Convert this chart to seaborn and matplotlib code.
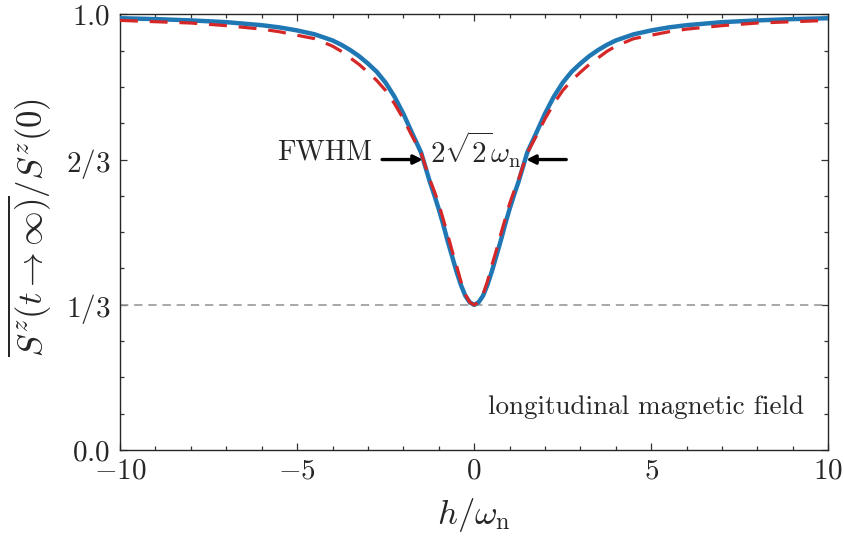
import numpy as np
import pandas as pd
import matplotlib
matplotlib.use("Agg")
import matplotlib.pyplot as plt
import seaborn as sns

# ---- data ----
h_half = [-10, -9, -8, -7, -6, -5.5, -5, -4.5, -4, -3.75, -3.5, -3.25, -3, -2.75,
          -2.5, -2.25, -2, -1.75, -1.5, -1.25, -1.125, -1, -0.875, -0.75, -0.625,
          -0.5, -0.375, -0.25, -0.125, 0]
blue_half = [0.991, 0.989, 0.986, 0.982, 0.975, 0.970, 0.963, 0.954, 0.940, 0.930,
             0.918, 0.904, 0.887, 0.868, 0.843, 0.811, 0.772, 0.727, 0.683, 0.615,
             0.585, 0.553, 0.518, 0.480, 0.445, 0.410, 0.379, 0.354, 0.339, 0.333]
red_half = [0.986, 0.983, 0.980, 0.974, 0.966, 0.960, 0.952, 0.944, 0.927, 0.915,
            0.900, 0.885, 0.867, 0.848, 0.825, 0.795, 0.760, 0.720, 0.682, 0.620,
            0.594, 0.565, 0.530, 0.495, 0.458, 0.424, 0.387, 0.357, 0.339, 0.333]

h_vals = h_half + [-v for v in h_half[-2::-1]]
blue_vals = blue_half + blue_half[-2::-1]
red_vals = red_half + red_half[-2::-1]

ytick_vals = [0, 1/3, 2/3, 1]
ytick_labels = ["$0.0$", "$1/3$", "$2/3$", "$1.0$"]
xtick_vals = [-10, -5, 0, 5, 10]
xtick_labels = ["$-10$", "$-5$", "$0$", "$5$", "$10$"]

df = pd.DataFrame({"h": h_vals, "exact": blue_vals, "approx": red_vals})

sns.set_theme(style="ticks")
plt.rcParams["font.family"] = "serif"
plt.rcParams["font.serif"] = ["cmr10", "DejaVu Serif"]
plt.rcParams["mathtext.fontset"] = "cm"
plt.rcParams["axes.unicode_minus"] = False

fig = plt.figure(figsize=(8.44, 5.48), dpi=100)
ax = fig.add_axes([0.1422, 0.1788, 0.9814 - 0.1422, 0.9739 - 0.1788])

ax.axhline(1/3, color="#999999", lw=1.2, ls=(0, (5, 3.5)), zorder=1)
sns.lineplot(data=df, x="h", y="exact", ax=ax, color="#1f77b4", lw=3.2, zorder=3)
sns.lineplot(data=df, x="h", y="approx", ax=ax, color="#d62728", lw=2.3,
             dashes=False, zorder=4)
ax.lines[-1].set_dashes((5.6, 3.7))

ax.set_xlim(-10, 10)
ax.set_ylim(0, 1)
ax.set_xticks(xtick_vals)
ax.set_xticklabels(xtick_labels)
ax.set_yticks(ytick_vals)
ax.set_yticklabels(ytick_labels)
ax.set_xticks(np.arange(-10, 11, 1), minor=True)
ax.set_yticks(np.arange(0, 1.0001, 1/12), minor=True)
ax.tick_params(which="both", direction="in", top=True, right=True,
               labelsize=21, width=0.9, color="#333333")
ax.tick_params(axis="y", which="both", pad=7)
ax.tick_params(axis="x", which="both", pad=6)
ax.tick_params(which="major", length=5.2)
ax.tick_params(which="minor", length=2.6)
for s in ax.spines.values():
    s.set_linewidth(1.0)

ax.set_xlabel(r"$h/\omega_\mathrm{n}$", fontsize=25)
ax.set_ylabel(r"$\overline{S^z(t\to\infty)}/S^z(0)$", fontsize=25)
ax.xaxis.set_label_coords(0.5, -0.105)
ax.yaxis.set_label_coords(-0.127, 0.51)
ax.yaxis.label.set_va("center")

ax.annotate("", xy=(-1.45, 2/3), xytext=(-2.6, 2/3),
            arrowprops=dict(arrowstyle="-|>", color="black", lw=2.4,
                            mutation_scale=13, shrinkA=0, shrinkB=0))
ax.annotate("", xy=(1.47, 2/3), xytext=(2.6, 2/3),
            arrowprops=dict(arrowstyle="-|>", color="black", lw=2.4,
                            mutation_scale=13, shrinkA=0, shrinkB=0))
ax.text(-2.87, 0.684, "FWHM", ha="right", va="center", fontsize=20.5)
ax.text(0.03, 0.69, r"$2\sqrt{2}\omega_\mathrm{n}$", ha="center", va="center",
        fontsize=21)
ax.text(4.84, 0.098, "longitudinal magnetic field", ha="center", va="center",
        fontsize=19.5)

fig.savefig("out.png", dpi=100)
